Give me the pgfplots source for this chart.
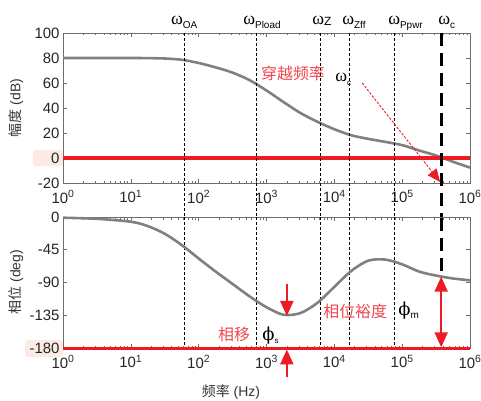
\documentclass[border=0pt]{standalone}
\usepackage{pgfplots}
\pgfplotsset{compat=1.18}
\usepackage{fontspec}
\setmainfont{Liberation Sans}
\newfontfamily\cjk{Noto Sans CJK SC}
\newfontfamily\gr{Liberation Serif}
\newfontfamily\grb{DejaVu Serif}
\newfontfamily\sub{Liberation Sans}
\usetikzlibrary{arrows.meta}

\definecolor{curve}{RGB}{128,128,128}
\definecolor{myred}{RGB}{237,28,36}
\definecolor{txtred}{RGB}{240,70,80}
\definecolor{hl}{RGB}{252,234,228}
\definecolor{frame}{RGB}{110,110,110}

\pgfplotsset{
  bode/.style={
    scale only axis, width=407bp, xmin=1, xmax=1e6,
    xtick={1,10,100,1000,1e4,1e5,1e6},
    xticklabels={10\textsuperscript{0},10\textsuperscript{1},10\textsuperscript{2},10\textsuperscript{3},10\textsuperscript{4},10\textsuperscript{5},10\textsuperscript{6}},
    axis line style={frame, line width=0.9bp},
    tick style={frame, line width=0.6bp},
    major tick length=4bp, minor tick length=2.5bp,
    tick label style={font=\fontsize{15}{15}\selectfont, text=black!85},
    xticklabel style={yshift=-4bp},
    clip=false,
  },
}
\tikzset{thin line/.style={black, line width=1bp, dash pattern=on 3bp off 2bp}}

\begin{document}
\begin{tikzpicture}[x=1bp,y=1bp]
\useasboundingbox (0,0) rectangle (481,400);
\fill[hl, rounded corners=3bp] (33,234) rectangle (63,250);
\fill[hl, rounded corners=3bp] (25,43) rectangle (63,60);

% magnitude
\begin{axis}[xmode=log, bode, at={(63bp,217bp)}, anchor=south west, height=150bp,
  ymin=-20, ymax=100, ytick={-20,0,20,40,60,80,100},
  yticklabels={-20,0,20,40,60,80,100}]
\addplot[curve, line width=2.6bp, smooth] coordinates {
 (1,80) (3.16,80) (10,80) (17.8,79.9) (31.6,79.6) (56.2,78.6) (100,76)
 (178,72.5) (316,68.3) (562,62.3) (1000,54) (1778,44.8) (3162,36) (5623,29)
 (1e4,23) (17783,18.2) (31623,15.3) (56234,12.9) (1e5,10.3) (177828,6)
 (316228,2) (562341,-3) (1e6,-7.7)};
\addplot[myred, line width=4bp] coordinates {(1,0) (1e6,0)};
\draw[thin line] (axis cs:61,100) -- (axis cs:61,-47.2);
\draw[thin line] (axis cs:708,100) -- (axis cs:708,-47.2);
\draw[thin line] (axis cs:6300,100) -- (axis cs:6300,-47.2);
\draw[thin line] (axis cs:16600,100) -- (axis cs:16600,-47.2);
\draw[thin line] (axis cs:77600,100) -- (axis cs:77600,-47.2);
\draw[black, line width=3bp, dash pattern=on 13bp off 7bp] (axis cs:376000,100) -- (axis cs:376000,-47.2);
\node[anchor=base west, inner sep=0] at (axis cs:39,106.4) {\gr\fontsize{18}{18}\selectfont ω{\sub\fontsize{10}{10}\selectfont\raisebox{-4bp}{OA}}};
\node[anchor=base west, inner sep=0] at (axis cs:452,106.4) {\gr\fontsize{18}{18}\selectfont ω{\sub\fontsize{10}{10}\selectfont\raisebox{-4bp}{Pload}}};
\node[anchor=base west, inner sep=0] at (axis cs:4700,106.4) {\gr\fontsize{18}{18}\selectfont ω{\sub\fontsize{12}{12}\selectfont\raisebox{-1bp}{Z}}};
\node[anchor=base west, inner sep=0] at (axis cs:13000,106.4) {\gr\fontsize{18}{18}\selectfont ω{\sub\fontsize{10}{10}\selectfont\raisebox{-4bp}{Zff}}};
\node[anchor=base west, inner sep=0] at (axis cs:62000,106.4) {\gr\fontsize{18}{18}\selectfont ω{\sub\fontsize{10}{10}\selectfont\raisebox{-4bp}{Ppwr}}};
\node[anchor=base west, inner sep=0] at (axis cs:340000,106.4) {\gr\fontsize{18}{18}\selectfont ω{\sub\fontsize{10}{10}\selectfont\raisebox{-4bp}{c}}};
\node[text=txtred, inner sep=0] at (axis cs:2460,68) {\cjk\fontsize{16}{16}\selectfont 穿越频率};
\node[anchor=base west, inner sep=0] at (axis cs:10300,60.8) {\gr\fontsize{18}{18}\selectfont ω{\sub\fontsize{8}{8}\selectfont\raisebox{-4bp}{c}}};
\draw[myred, line width=0.9bp, dash pattern=on 2.5bp off 1.5bp, -{Triangle[length=13bp,width=11bp]}]
  (axis cs:25700,60) -- (axis cs:363000,-19.2);
\end{axis}

% phase
\begin{axis}[xmode=log, bode, at={(63bp,52bp)}, anchor=south west, height=131bp,
  ymin=-180, ymax=0, ytick={-180,-135,-90,-45,0},
  yticklabels={-180,-135,-90,-45,0}]
\draw[thin line] (axis cs:61,0) -- (axis cs:61,-180);
\draw[thin line] (axis cs:708,0) -- (axis cs:708,-180);
\draw[thin line] (axis cs:6300,0) -- (axis cs:6300,-180);
\draw[thin line] (axis cs:16600,0) -- (axis cs:16600,-180);
\draw[thin line] (axis cs:77600,0) -- (axis cs:77600,-180);
\draw[black, line width=3bp, dash pattern=on 13bp off 7bp] (axis cs:376000,-1) -- (axis cs:376000,-82);
\addplot[curve, line width=2.6bp, smooth] coordinates {
 (1,-1) (3.16,-2.5) (10,-6.5) (17.8,-12.5) (31.6,-23) (56.2,-38.5) (100,-57)
 (178,-75) (316,-92) (562,-109) (1000,-124) (1778,-134.3) (3162,-132)
 (5623,-118) (1e4,-96) (17783,-74) (31623,-60) (56234,-58.5) (1e5,-65)
 (177828,-75) (316228,-80.5) (562341,-84.5) (1e6,-87)};
\addplot[myred, line width=3bp] coordinates {(1,-180) (1e6,-180)};
\draw[myred, line width=2.2bp, -{Triangle[length=15bp,width=13bp]}] (axis cs:1995,-92) -- (axis cs:1995,-136);
\draw[myred, line width=2.2bp, -{Triangle[length=15bp,width=13bp]}] (axis cs:1995,-220) -- (axis cs:1995,-182);
\draw[myred, line width=2.2bp, {Triangle[length=15bp,width=13bp]}-{Triangle[length=15bp,width=13bp]}] (axis cs:376000,-82) -- (axis cs:376000,-179);
\node[text=txtred, inner sep=0] at (axis cs:333,-161) {\cjk\fontsize{16}{16}\selectfont 相移};
\node[anchor=base west, inner sep=0] at (axis cs:861,-170) {\grb\fontsize{18}{18}\selectfont ϕ{\sub\fontsize{8}{8}\selectfont\raisebox{-3bp}{s}}};
\node[text=txtred, inner sep=0] at (axis cs:20300,-129.5) {\cjk\fontsize{16}{16}\selectfont 相位裕度};
\node[anchor=base west, inner sep=0] at (axis cs:87600,-136) {\grb\fontsize{18}{18}\selectfont ϕ{\sub\fontsize{10}{10}\selectfont\raisebox{-3bp}{m}}};
\end{axis}

\node[rotate=90, text=black!80] at (16,292) {\fontsize{14}{14}\selectfont{\cjk 幅度} (dB)};
\node[rotate=90, text=black!80] at (16,118) {\fontsize{14}{14}\selectfont{\cjk 相位} (deg)};
\node[text=black!80] at (231,8) {\fontsize{14}{14}\selectfont{\cjk 频率} (Hz)};
\end{tikzpicture}
\end{document}
